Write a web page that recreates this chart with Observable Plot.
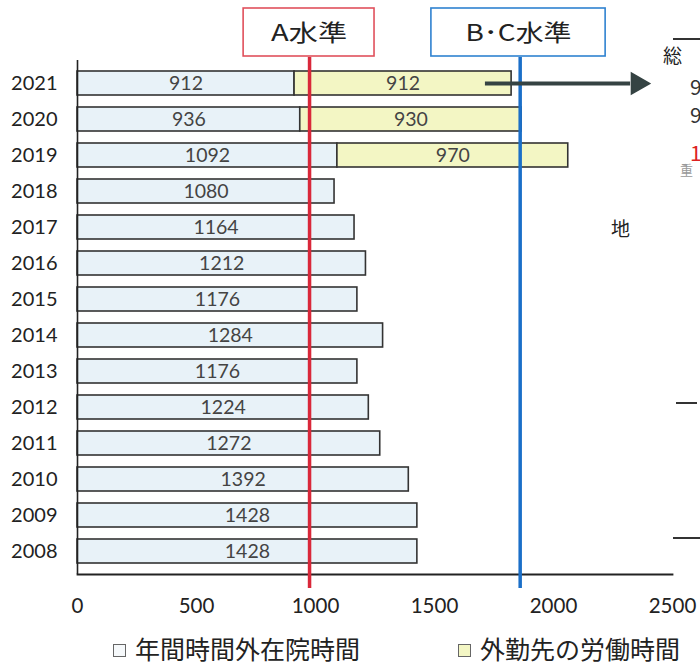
<!DOCTYPE html>
<html><head><meta charset="utf-8">
<script src="https://cdn.jsdelivr.net/npm/d3@7"></script>
<script src="https://cdn.jsdelivr.net/npm/@observablehq/plot@0.6"></script>
<style>
body{margin:0;background:#fff;}
#wrap{position:relative;width:700px;height:664px;overflow:hidden;background:#fff;}
#legend{position:absolute;left:0;top:634px;width:700px;height:28px;font-family:"Noto Sans CJK JP",sans-serif;font-size:25px;color:#222;}
.item{position:absolute;top:0;height:28px;line-height:28px;white-space:nowrap;}
.sq{display:inline-block;width:11px;height:11px;border:1.3px solid #666;margin-right:9px;vertical-align:middle;position:relative;top:-2px;}
.side{position:absolute;font-family:"Noto Sans CJK JP",sans-serif;white-space:nowrap;}
.hl{position:absolute;height:2px;background:#333;}
</style></head><body><div id="wrap"></div>
<script>
// ---- data ----
const years = [2021, 2020, 2019, 2018, 2017, 2016, 2015, 2014, 2013, 2012, 2011, 2010, 2009, 2008];
const inHospitalHours = [912, 936, 1092, 1080, 1164, 1212, 1176, 1284, 1176, 1224, 1272, 1392, 1428, 1428];
const outsideWorkHours = [912, 930, 970, 0, 0, 0, 0, 0, 0, 0, 0, 0, 0, 0];
const seriesNames = ["年間時間外在院時間", "外勤先の労働時間"];
const levelNames = ["A水準", "B･C水準"];
const levelValues = [975, 1860];
const xTicks = [0, 500, 1000, 1500, 2000, 2500];

// ---- tables ----
const rows = [];
years.forEach((y, i) => {
  rows.push({year: y, series: seriesNames[0], value: inHospitalHours[i]});
  if (outsideWorkHours[i] > 0) rows.push({year: y, series: seriesNames[1], value: outsideWorkHours[i]});
});
const levels = levelNames.map((n, i) => ({name: n, value: levelValues[i]}));
// annotation box geometry (style)
const boxHalf = [275, 366];
const boxShift = [-2, -7];
const labelWidths = [76, 106];
const levelColors = ["#d9283a", "#1b6fc8"];
const boxColors = ["#e0505c", "#2f82d0"];

// arrow pointing from the 2021 bar to the table on the right (annotation)
const arrowRow = [{year: years[0], from: 1714, to: 2324, tip: 2353}];

const chart = Plot.plot({
  width: 700,
  height: 632,
  marginLeft: 77,
  marginRight: 28,
  marginTop: 60,
  marginBottom: 58,
  style: {fontFamily: "Lato, 'Noto Sans CJK JP', sans-serif", background: "#fff", overflow: "visible"},
  x: {domain: [0, 2500]},
  y: {type: "band", domain: years, padding: 0.32, insetTop: -6.3, insetBottom: -6.2, label: null},
  color: {domain: seriesNames, range: ["#e8f2f8", "#f3f6c4"]},
  marks: [
    Plot.barX(rows, {y: "year", x: "value", fill: "series", stroke: "#333", strokeWidth: 1.6}),
    Plot.text(rows, Plot.stackX({y: "year", x: "value", text: d => String(d.value), fill: "#444", fontSize: 19.5})),
    Plot.ruleX([0], {stroke: "#222", strokeWidth: 1.6}),
    Plot.frame({anchor: "bottom", stroke: "#222", strokeWidth: 1.8}),
    Plot.ruleX(levels, {x: "value", stroke: (d, i) => levelColors[i], strokeWidth: 3.5, insetTop: -3, insetBottom: -14}),
    Plot.rect(levels, {
      x1: (d, i) => d.value + boxShift[i] - boxHalf[i],
      x2: (d, i) => d.value + boxShift[i] + boxHalf[i],
      fill: "#fff", stroke: (d, i) => boxColors[i], strokeWidth: 1.6, insetTop: -52, insetBottom: 518
    }),
    Plot.text(levels, {
      x: (d, i) => d.value + boxShift[i], text: "name", frameAnchor: "top", lineAnchor: "middle", dy: -27,
      fontSize: 23, fill: "#222", fontFamily: "'Noto Sans CJK JP', sans-serif"
    }),
    Plot.ruleY(arrowRow, {y: "year", x1: "from", x2: "to", stroke: "#354343", strokeWidth: 4}),
    Plot.dot(arrowRow, {y: "year", x: "tip", symbol: "triangle", rotate: 90, r: 7.8, fill: "#354343", stroke: "#354343"}),
    Plot.axisY({tickSize: 0, tickPadding: 20, fontSize: 20, fill: "#222", label: null, tickFormat: d => String(d)}),
    Plot.axisX({ticks: xTicks, tickSize: 0, tickPadding: 24, fontSize: 20.5, fill: "#222", label: null, tickFormat: d => String(d)})
  ]
});
chart.style.display = "block";
const wrap = document.getElementById("wrap");
wrap.appendChild(chart);
// the scanned labels are horizontally wide: stretch the level labels to their width
chart.querySelectorAll("text").forEach(t => {
  const k = levelNames.indexOf(t.textContent);
  if (k >= 0) {
    t.setAttribute("textLength", labelWidths[k]);
    t.setAttribute("lengthAdjust", "spacingAndGlyphs");
  }
});

// legend
const legend = document.createElement("div");
legend.id = "legend";
const swatches = ["#f6f9fb", "#f3f6c4"];
const lefts = [113, 458];
seriesNames.forEach((n, i) => {
  const it = document.createElement("div");
  it.className = "item";
  it.style.left = lefts[i] + "px";
  it.innerHTML = `<span class="sq" style="background:${swatches[i]}"></span>${n}`;
  legend.appendChild(it);
});
wrap.appendChild(legend);

// cropped neighbouring table fragment at right edge
const frag = [
  {t: "総", l: 663, tp: 41, s: 19, c: "#222"},
  {t: "9", l: 690, tp: 71, s: 21, c: "#333"},
  {t: "9", l: 690, tp: 99, s: 21, c: "#333"},
  {t: "1", l: 690, tp: 137, s: 21, c: "#d22"},
  {t: "重", l: 680, tp: 160, s: 13, c: "#999"},
  {t: "地", l: 611, tp: 214, s: 19, c: "#222"}
];
frag.forEach(f => {
  const d = document.createElement("div");
  d.className = "side";
  d.textContent = f.t;
  Object.assign(d.style, {left: f.l + "px", top: f.tp + "px", fontSize: f.s + "px", color: f.c});
  wrap.appendChild(d);
});
[[673, 38, 27], [676, 402, 21], [673, 537, 27]].forEach(([l, t, w]) => {
  const d = document.createElement("div");
  d.className = "hl";
  Object.assign(d.style, {left: l + "px", top: t + "px", width: w + "px"});
  wrap.appendChild(d);
});
</script></body></html>
